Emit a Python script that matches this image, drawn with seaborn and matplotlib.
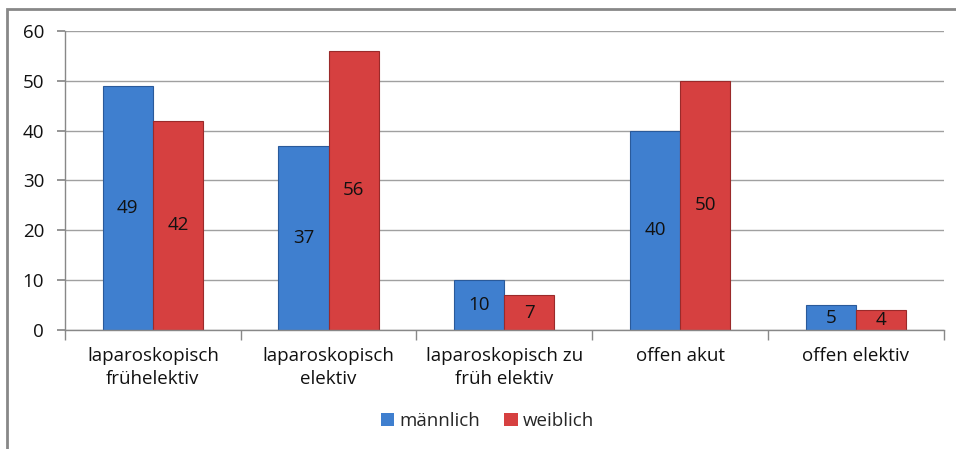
import pandas as pd
import matplotlib.pyplot as plt
import matplotlib.patches as mpatches
import seaborn as sns

# data
categories = ["laparoskopisch\nfrühelektiv", "laparoskopisch\nelektiv",
              "laparoskopisch zu\nfrüh elektiv", "offen akut", "offen elektiv"]
maennlich = [49, 37, 10, 40, 5]
weiblich = [42, 56, 7, 50, 4]
series = ["männlich", "weiblich"]

sns.set_theme()
sns.set_style("white")
plt.rcParams['font.family'] = ['Open Sans', 'DejaVu Sans']

df = pd.DataFrame({"Kategorie": categories * 2,
                   "Wert": maennlich + weiblich,
                   "Geschlecht": [series[0]] * len(categories) + [series[1]] * len(categories)})

fig = plt.figure(figsize=(9.56, 4.49), dpi=100)
ax = fig.add_axes([0.068, 0.265, 0.919, 0.666])

palette = {"männlich": "#3f7fcf", "weiblich": "#d64040"}
sns.barplot(data=df, x="Kategorie", y="Wert", hue="Geschlecht", palette=palette,
            width=0.57, saturation=1, ax=ax, edgecolor="none")

edge = {"männlich": "#2a5a9a", "weiblich": "#9a2a2a"}
for cont, name in zip(ax.containers, series):
    for bar in cont:
        bar.set_edgecolor(edge[name])
        bar.set_linewidth(0.8)
    ax.bar_label(cont, label_type="center", fontsize=13.5, color="#111111")

ax.set_ylim(0, 60)
ax.set_yticks(range(0, 61, 10))
ax.set_xlim(-0.5, len(categories) - 0.5)
ax.yaxis.grid(True, color="#a0a0a0", linewidth=1)
ax.set_axisbelow(True)
ax.set(xlabel="", ylabel="")

for s in ["top", "right"]:
    ax.spines[s].set_visible(False)
for s in ["left", "bottom"]:
    ax.spines[s].set_color("#888888")
    ax.spines[s].set_linewidth(1)

ax.tick_params(axis="y", left=True, length=6, color="#888888", labelsize=13.5,
               labelcolor="#111111", pad=9)
ax.tick_params(axis="x", bottom=False, labelsize=13.5, labelcolor="#111111", pad=6)
ax.set_xticks(range(len(categories)), categories)
for lbl in ax.get_xticklabels():
    lbl.set_linespacing(1.35)
# separator ticks between categories
ax.set_xticks([i + 0.5 for i in range(-1, len(categories))], minor=True)
ax.tick_params(axis="x", which="minor", bottom=True, length=7, color="#888888")

ax.legend(loc="center", bbox_to_anchor=(0.51, 0.062), bbox_transform=fig.transFigure,
          ncol=2, frameon=False, fontsize=13.5, handlelength=0.7, handleheight=0.7,
          columnspacing=1.3, handletextpad=0.3)

# outer chart border
fig.patches.append(mpatches.Rectangle((7 / 956, -0.05), 1.1, 1 - 9 / 449 + 0.05,
                                      transform=fig.transFigure, fill=False,
                                      edgecolor="#888888", linewidth=2))

fig.savefig("out.png", dpi=100)
